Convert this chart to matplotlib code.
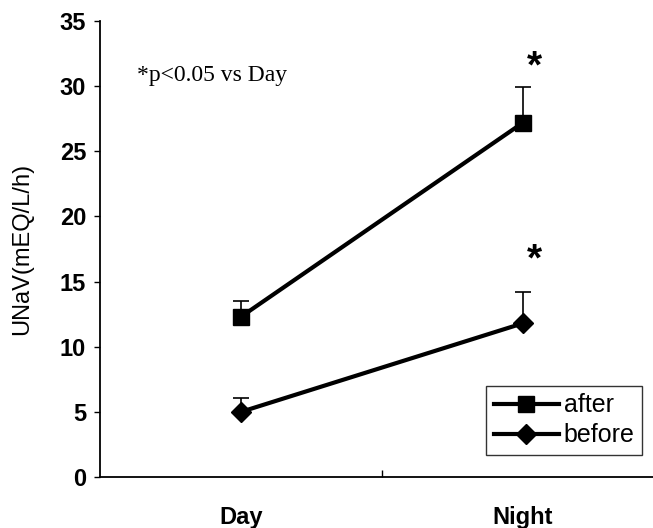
import matplotlib.pyplot as plt
import numpy as np

# data
periods = ["Day", "Night"]
after_mean = [12.3, 27.2]
after_sd = [1.2, 2.7]
before_mean = [5.0, 11.8]
before_sd = [1.1, 2.4]
yticks = [0, 5, 10, 15, 20, 25, 30, 35]

plt.rcParams['font.family'] = ['Liberation Sans', 'DejaVu Sans']

fig = plt.figure(figsize=(6.53, 5.28), dpi=100)
# axes runs a bit past the right edge like the original scan
ax = fig.add_axes([100/653, 51/528, 564/653, 456/528])

x = np.arange(len(periods))

ax.errorbar(x, after_mean, yerr=[[0]*2, after_sd], fmt='none', ecolor='black',
            elinewidth=1.2, capsize=6, capthick=1.2, zorder=2)
ax.errorbar(x, before_mean, yerr=[[0]*2, before_sd], fmt='none', ecolor='black',
            elinewidth=1.2, capsize=6, capthick=1.2, zorder=2)
ax.plot(x, after_mean, color='black', lw=3, marker='s', markersize=11, label='after', zorder=3)
ax.plot(x, before_mean, color='black', lw=3, marker='D', markersize=10, label='before', zorder=3)

# significance stars
ax.text(x[1] + 0.04, after_mean[1] + after_sd[1] + 1.5, '*', fontsize=28, fontweight='bold',
        ha='center', va='center')
ax.text(x[1] + 0.04, before_mean[1] + before_sd[1] + 2.4, '*', fontsize=28, fontweight='bold',
        ha='center', va='center')
ax.text(0.066, 0.88, '*p<0.05 vs Day', transform=ax.transAxes, fontsize=17,
        family='Liberation Serif', va='center')

ax.set_xlim(-0.5, 1.5)
ax.set_ylim(0, 35)
ax.set_yticks(yticks)
ax.set_xticks([0.5])
ax.set_xticklabels([''])
ax.tick_params(axis='x', direction='in', length=5, width=1)
ax.tick_params(axis='y', direction='out', length=4, width=1, labelsize=17, pad=6)
for lab in ax.get_yticklabels():
    lab.set_fontweight('bold')
for i, p in enumerate(periods):
    ax.text(i, -0.088, p, transform=ax.get_xaxis_transform(), ha='center', va='center',
            fontsize=17, fontweight='bold')

ax.spines['top'].set_visible(False)
ax.spines['right'].set_visible(False)
ax.spines['left'].set_linewidth(1.3)
ax.spines['bottom'].set_linewidth(1.3)

ax.set_ylabel('UNaV(mEQ/L/h)', fontsize=17)
ax.yaxis.set_label_coords(-0.118, 0.5)

leg = ax.legend(loc='lower right', bbox_to_anchor=(542/564, 22/456),
                fontsize=18, frameon=True, fancybox=False, edgecolor='black',
                handlelength=2.6, handletextpad=0.2, borderpad=0.3, labelspacing=0.25,
                borderaxespad=0)
leg.get_frame().set_linewidth(1)

fig.savefig('out.png', dpi=100, facecolor='white')
